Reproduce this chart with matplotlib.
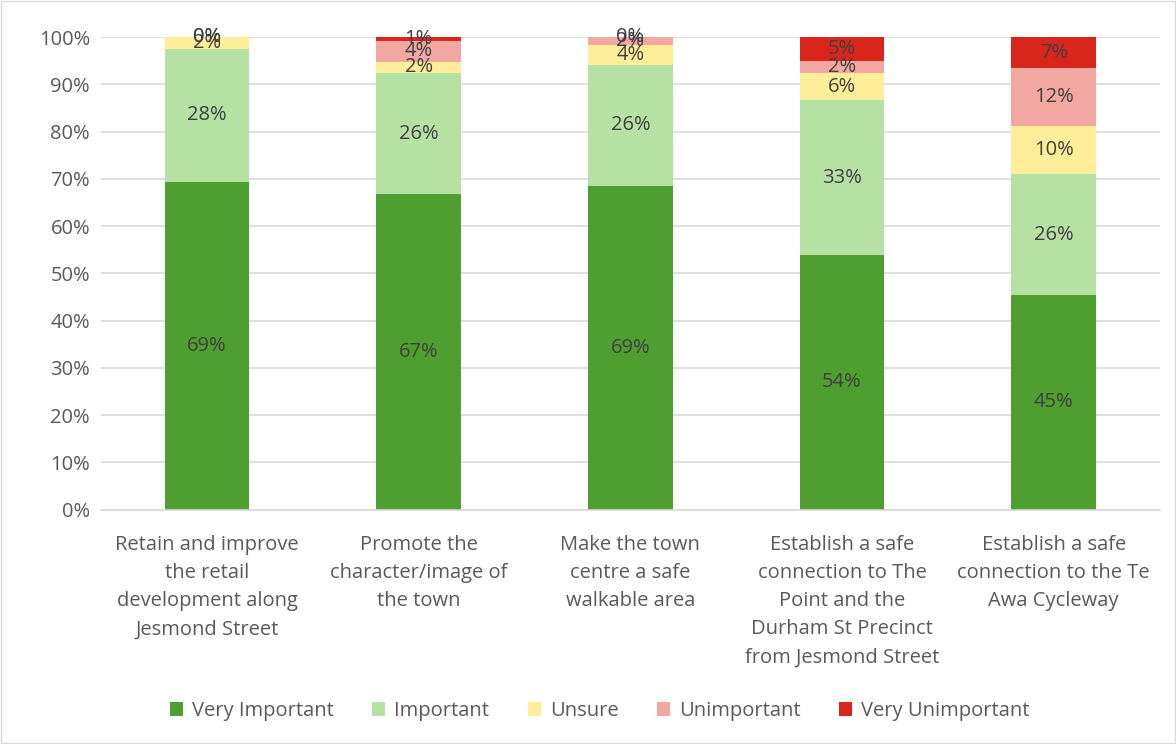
import matplotlib
matplotlib.use("Agg")
from matplotlib import pyplot as plt
from matplotlib.patches import Rectangle
import numpy as np

plt.rcParams['font.family'] = ['Open Sans', 'DejaVu Sans']

categorias = ["Retain and improve\nthe retail\ndevelopment along\nJesmond Street",
              "Promote the\ncharacter/image of\nthe town",
              "Make the town\ncentre a safe\nwalkable area",
              "Establish a safe\nconnection to The\nPoint and the\nDurham St Precinct\nfrom Jesmond Street",
              "Establish a safe\nconnection to the Te\nAwa Cycleway"]

muy_importante = [69.4, 66.8, 68.6, 53.9, 45.4]
importante = [28.2, 25.6, 25.6, 32.8, 25.6]
inseguro = [2.4, 2.4, 4.1, 5.7, 10.1]
no_importante = [0.0, 4.4, 1.7, 2.5, 12.3]
muy_no_importante = [0.0, 0.8, 0.0, 5.1, 6.6]

series = [("Very Important", muy_importante, "#4E9F2F"),
          ("Important", importante, "#B5E2A2"),
          ("Unsure", inseguro, "#FFEE99"),
          ("Unimportant", no_importante, "#F2A7A0"),
          ("Very Unimportant", muy_no_importante, "#D9261C")]

texto = "#404040"
gris = "#595959"

fig = plt.figure(figsize=(11.76, 7.44), dpi=100)
ax = fig.add_axes([0.086, 0.315, 0.900, 0.635])

x = np.arange(len(categorias))
base = np.zeros(len(categorias))
for nombre, vals, color in series:
    vals = np.array(vals)
    barras = ax.bar(x, vals, 0.4, bottom=base, color=color, label=nombre, zorder=2)
    ax.bar_label(barras, labels=[f"{round(v):.0f}%" for v in vals], label_type='center',
                 color=texto, fontsize=14.5)
    base = base + vals

ax.set_xlim(-0.5, 4.5)
ax.set_ylim(0, 100)
ax.set_yticks(np.arange(0, 101, 10))
ax.set_yticklabels([f"{v}%" for v in range(0, 101, 10)])
ax.set_xticks(x)
ax.set_xticklabels(categorias, linespacing=1.55, va='top')
ax.tick_params(axis='both', length=0, labelsize=14.5, labelcolor=gris)
ax.tick_params(axis='x', pad=18)
ax.tick_params(axis='y', pad=8)
ax.grid(axis='y', color='#D9D9D9', linewidth=1.2, zorder=0)
for s in ['top', 'right', 'left']:
    ax.spines[s].set_visible(False)
ax.spines['bottom'].set_color('#D9D9D9')
ax.spines['bottom'].set_linewidth(1.2)

ax.legend(loc='center', bbox_to_anchor=(0.51, 0.044), bbox_transform=fig.transFigure,
          ncol=5, frameon=False, fontsize=14.5, labelcolor=gris,
          handlelength=0.65, handleheight=0.65, handletextpad=0.45, columnspacing=1.9)

fig.patches.append(Rectangle((0.001, 0.001), 0.998, 0.998, transform=fig.transFigure,
                             fill=False, edgecolor='#D9D9D9', linewidth=1))

fig.savefig("out.png", dpi=100)
